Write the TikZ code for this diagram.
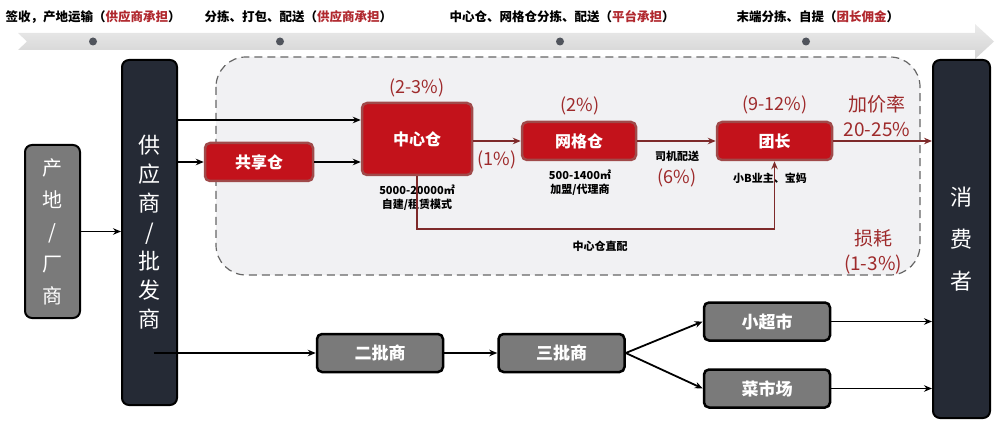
\documentclass[tikz,border=0pt]{standalone}
\usepackage{fontspec}
\setmainfont{Noto Sans CJK SC}
\usetikzlibrary{arrows.meta}

\definecolor{boxred}{HTML}{C3121B}
\definecolor{boxredline}{HTML}{A04A4A}
\definecolor{linered}{HTML}{7E2A2A}
\definecolor{textred}{HTML}{9E2A2B}
\definecolor{toptextred}{HTML}{B0282E}
\definecolor{navy}{HTML}{252A35}
\definecolor{midgrey}{HTML}{7A7A7A}
\definecolor{areagrey}{HTML}{F1F1F3}
\definecolor{dotgrey}{HTML}{50545C}

\tikzset{
  redbox/.style={draw=boxredline, line width=2.5pt, fill=boxred, rounded corners=5pt,
    text=white, font=\fontsize{16}{16}\selectfont\bfseries, inner sep=0pt},
  greybox/.style={draw=black, line width=2.5pt, fill=midgrey, rounded corners=5pt,
    text=white, font=\fontsize{17}{17}\selectfont\bfseries, inner sep=0pt,
    minimum width=126pt, minimum height=38pt},
  tallbar/.style={draw=black, line width=2pt, fill=navy, rounded corners=7pt,
    text=white, align=center, inner sep=0pt},
  rate/.style={text=textred, font=\fontsize{18}{18}\selectfont},
  bigrate/.style={text=textred, font=\fontsize{19}{25}\selectfont, align=center},
  note/.style={font=\fontsize{11}{14}\selectfont\bfseries, align=center},
  stage/.style={anchor=west, font=\fontsize{12.5}{12.5}\selectfont\bfseries},
  flow/.style={-{Stealth[length=8pt,width=6.5pt]}, line width=1.8pt},
  redflow/.style={flow, draw=linered},
}

\begin{document}
\begin{tikzpicture}[x=1pt,y=-1pt]
  \useasboundingbox (0,0) rectangle (1000,430);

  % timeline
  \shade[top color=gray!15, bottom color=gray!35]
    (18,33) -- (975,33) -- (975,24) -- (994,41.5) -- (975,59) -- (975,50)
    -- (18,50) -- (27,41.5) -- cycle;
  \foreach \x in {93,280,560,806}
    \fill[dotgrey] (\x,41.5) circle (4);
  \node[stage] (stage1) at (2,17) {签收，产地运输（\textcolor{toptextred}{供应商承担}）};
  \node[stage] (stage2) at (201,17) {分拣、打包、配送（\textcolor{toptextred}{供应商承担}）};
  \node[stage] (stage3) at (446,17) {中心仓、网格仓分拣、配送（\textcolor{toptextred}{平台承担}）};
  \node[stage] (stage4) at (733,17) {末端分拣、自提（\textcolor{toptextred}{团长佣金}）};

  % platform area
  \draw[dashed, dash pattern=on 8pt off 5pt, draw=gray!80!black, line width=1.2pt,
    fill=areagrey, rounded corners=30pt] (216,57) rectangle (920,275);

  % main nodes
  \node[tallbar, fill=midgrey, minimum width=55pt, minimum height=173pt,
    font=\fontsize{20}{32}\selectfont] (origin) at (52.5,231.5) {产\\地\\/\\厂\\商};
  \node[tallbar, minimum width=55pt, minimum height=345pt,
    font=\fontsize{22}{29}\selectfont] (supplier) at (149.5,232.5) {供\\应\\商\\/\\批\\发\\商};
  \node[tallbar, minimum width=57pt, minimum height=358pt,
    font=\fontsize{22}{42}\selectfont] (consumer) at (961.5,239) {消\\费\\者};

  \node[redbox, minimum width=108pt, minimum height=38pt] (share) at (259,162) {共享仓};
  \node[redbox, minimum width=110pt, minimum height=72pt] (center) at (417,139) {中心仓};
  \node[redbox, minimum width=114pt, minimum height=38pt] (grid) at (579,141) {网格仓};
  \node[redbox, minimum width=115pt, minimum height=38pt] (leader) at (774.5,141) {团长};

  \node[greybox] (second) at (380,353) {二批商};
  \node[greybox] (third) at (561.5,353) {三批商};
  \node[greybox] (mart) at (767,321.5) {小超市};
  \node[greybox] (market) at (767,388.5) {菜市场};

  % labels
  \node[rate] (centerrate) at (417,88) {(2-3\%)};
  \node[note] (centernote) at (417,198) {5000-20000㎡\\自建/租赁模式};
  \node[rate] (linkrate) at (497,160) {(1\%)};
  \node[rate] (gridrate) at (580,106) {(2\%)};
  \node[note] (gridnote) at (580,183) {500-1400㎡\\加盟/代理商};
  \node[note] (driver) at (677,156) {司机配送};
  \node[rate] (driverrate) at (677,178) {(6\%)};
  \node[rate] (leaderrate) at (775,105) {(9-12\%)};
  \node[note] (leadernote) at (770,178) {小B业主、宝妈};
  \node[bigrate] (markup) at (877,116) {加价率\\20-25\%};
  \node[bigrate] (loss) at (873,252) {损耗\\(1-3\%)};
  \node[note] (direct) at (600,246) {中心仓直配};

  % connectors
  \draw[flow] (origin) -- (origin -| supplier.west);
  \draw[flow] ([yshift=19pt]center.west -| supplier.east) -- ([yshift=19pt]center.west);
  \draw[flow] (supplier.east |- share) -- (share);
  \draw[flow] (share) -- (center.west |- share);
  \begin{scope}[redflow]
    \draw (center.east |- grid) -- (grid);
    \draw (grid) -- (leader);
    \draw (leader) -- (leader -| consumer.west);
    \draw (center.south) -- ++(0,53) -| (leader.south);
  \end{scope}
  \draw[flow] ([xshift=4pt]supplier.center |- second) -- (second);
  \draw[flow] (second) -- (third);
  \draw[flow] (third.east) -- (mart.west);
  \draw[flow] (third.east) -- (market.west);
  \draw[flow] (mart) -- (mart -| consumer.west);
  \draw[flow] (market) -- (market -| consumer.west);
\end{tikzpicture}
\end{document}
